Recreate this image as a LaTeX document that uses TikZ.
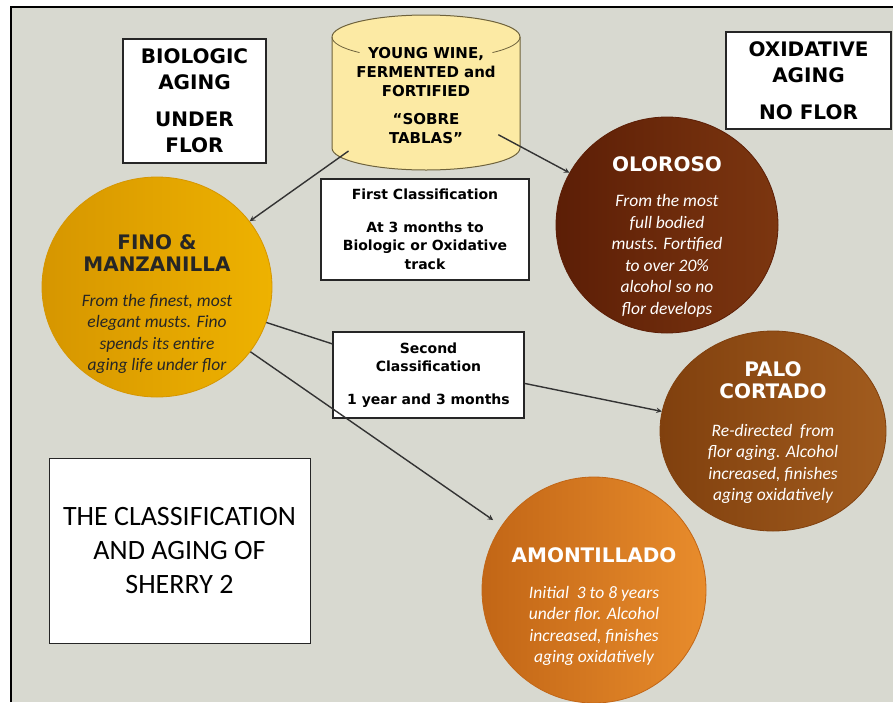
\documentclass[tikz,border=0pt]{standalone}
\usepackage{fontspec}
\setmainfont{Carlito}
\newfontfamily\boldsans{DejaVu Sans}
\usetikzlibrary{shapes.geometric}
\definecolor{slate}{RGB}{216,217,208}
\definecolor{tank}{RGB}{252,234,164}
\definecolor{tankline}{RGB}{110,98,60}
\definecolor{finoA}{RGB}{214,150,0}
\definecolor{finoB}{RGB}{246,196,22}
\definecolor{finoC}{RGB}{238,178,0}
\definecolor{oloA}{RGB}{92,30,6}
\definecolor{oloB}{RGB}{124,54,16}
\definecolor{paloA}{RGB}{128,64,14}
\definecolor{paloB}{RGB}{162,92,30}
\definecolor{amoA}{RGB}{194,102,22}
\definecolor{amoB}{RGB}{232,140,44}
\tikzset{>=stealth,
  tagbox/.style={draw=black!85, line width=1.3pt, fill=white, align=center, inner sep=0pt},
  tagfont/.style={font=\boldsans\bfseries\fontsize{20}{26}\selectfont},
  smallfont/.style={font=\boldsans\bfseries\fontsize{14}{18.5}\selectfont},
  ball/.style={ellipse, inner sep=0pt, line width=0.8pt},
  head/.style={font=\boldsans\bfseries\fontsize{20}{22}\selectfont, align=center, inner sep=0pt},
  blurb/.style={font=\itshape\fontsize{17.5}{21.5}\selectfont, align=center, inner sep=0pt},
  link/.style={draw=black!80, line width=1.4pt},
}
\begin{document}
\begin{tikzpicture}[x=1pt,y=-1pt]
    \useasboundingbox (0,0) rectangle (893,702);
    % slide background
    \fill[white] (0,0) rectangle (893,702);
    \fill[slate] (11,7) rectangle (893,702);
    \draw[line width=2.5pt] (11,702) -- (11,7) -- (893,7);

    % the tank
    \filldraw[draw=tankline, fill=tank, line width=1pt] (332,37) -- (332,148)
        arc[start angle=180, end angle=0, x radius=94, y radius=22] -- (520,37)
        arc[start angle=0, end angle=-180, x radius=94, y radius=22] -- cycle;
    \draw[tankline, line width=0.8pt] (332,37) arc[start angle=180, end angle=135, x radius=94, y radius=22];
    \draw[tankline, line width=0.8pt] (520,37) arc[start angle=0, end angle=45, x radius=94, y radius=22];
    \node[align=center, inner sep=0pt, font=\boldsans\bfseries\fontsize{15}{19}\selectfont]
          (wine) at (426,96) {YOUNG WINE,\\FERMENTED and\\FORTIFIED\\[9pt]“SOBRE\\TABLAS”};

    \node[tagbox, tagfont, minimum width=143pt, minimum height=124pt] (bio) at (194.5,101)
          {BIOLOGIC\\AGING\\[11pt]UNDER\\FLOR};
    \node[tagbox, tagfont, minimum width=165pt, minimum height=97pt] (oxi) at (808.5,80.5)
          {OXIDATIVE\\AGING\\[11pt]NO FLOR};
    \node[tagbox, smallfont, minimum width=208pt, minimum height=101pt] (first) at (425,229.5)
          {First Classification\\[14pt]At 3 months to\\Biologic or Oxidative\\track};
    \node[tagbox, smallfont, minimum width=191pt, minimum height=86pt] (second) at (428.5,375)
          {Second\\Classification\\[14pt]1 year and 3 months};
    \node[tagbox, line width=1pt, font=\fontsize{28}{34}\selectfont, minimum width=261pt,
          minimum height=185pt] (title) at (179.5,550.5)
          {THE CLASSIFICATION\\AND AGING OF\\SHERRY 2};

    \node[ball, draw=finoA, left color=finoA, middle color=finoB, right color=finoC,
          minimum width=230pt, minimum height=220pt] (fino) at (157,287) {};
    \node[ball, draw=oloA, left color=oloA, right color=oloB,
          minimum width=222pt, minimum height=216pt] (oloroso) at (667,225) {};
    \node[ball, draw=paloA, left color=paloA, right color=paloB,
          minimum width=226pt, minimum height=200pt] (palo) at (773,431) {};
    \node[ball, draw=amoA, left color=amoA, right color=amoB,
          minimum width=224pt, minimum height=226pt] (amont) at (594,590) {};

    \node[head, text=black!85] (finohead) at (157,253) {FINO \&\\MANZANILLA};
    \node[blurb, text=black!85] (finotext) at (157,334)
          {From the finest, most\\elegant musts. Fino\\spends its entire\\aging life under flor};
    \node[head, text=white] (olohead) at (667,164) {OLOROSO};
    \node[blurb, text=white] (olotext) at (667,256)
          {From the most\\full bodied\\musts. Fortified\\to over 20\%\\alcohol so no\\flor develops};
    \node[head, text=white] (palohead) at (773,380) {PALO\\CORTADO};
    \node[blurb, text=white] (palotext) at (773,464)
          {Re-directed \ from\\flor aging. Alcohol\\increased, finishes\\aging oxidatively};
    \node[head, text=white] (amohead) at (594,555) {AMONTILLADO};
    \node[blurb, text=white] (amotext) at (594,626)
          {Initial \ 3 to 8 years\\under flor. Alcohol\\increased, finishes\\aging oxidatively};

    \draw[link, ->, shorten <=95pt] (wine.center) -- (fino);
    \draw[link, ->, shorten <=82pt] (wine.center) -- (oloroso);
    \draw[link] (fino) -- (second);
    \draw[link, ->] (second.-5) -- (palo.170);
    \draw[link, ->, shorten >=10pt] (fino) -- (amont);
\end{tikzpicture}
\end{document}
